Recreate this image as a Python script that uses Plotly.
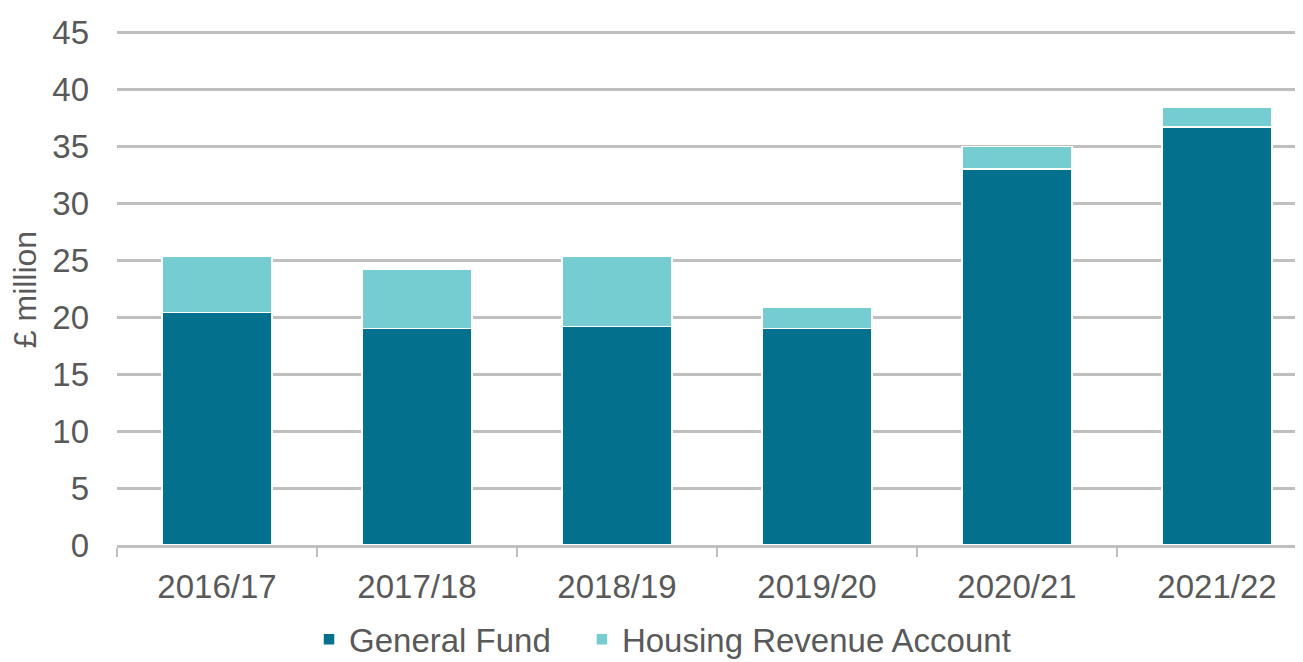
import plotly.graph_objects as go

years = ["2016/17", "2017/18", "2018/19", "2019/20", "2020/21", "2021/22"]
general_fund = [20.4, 19.0, 19.2, 19.0, 33.0, 36.7]
housing_revenue = [5.0, 5.2, 6.2, 1.9, 2.0, 1.7]
y_ticks = [0, 5, 10, 15, 20, 25, 30, 35, 40, 45]

GF_COLOR = "#03718D"
HRA_COLOR = "#75CDD2"
TEXT = "#595959"
GRID = "#BFBFBF"
FONT = "Liberation Sans, Arial, sans-serif"

fig = go.Figure()
fig.add_bar(x=years, y=general_fund, name="General Fund", legend="legend",
            marker=dict(color=GF_COLOR, line=dict(color="white", width=1.5)))
fig.add_bar(x=years, y=housing_revenue, name="Housing Revenue Account", legend="legend2",
            marker=dict(color=HRA_COLOR, line=dict(color="white", width=1.5)))

legend_common = dict(orientation="h", yanchor="middle", xanchor="left",
                     font=dict(size=33, color=TEXT), itemwidth=30,
                     bgcolor="rgba(0,0,0,0)")

# page body has an 8px margin, so the figure is drawn 8px smaller / shifted
fig.update_layout(
    barmode="stack",
    bargap=0.45,
    width=1295, height=654,
    margin=dict(l=109, r=0, t=20, b=117, pad=0, autoexpand=False),
    paper_bgcolor="white", plot_bgcolor="white",
    font=dict(family=FONT, color=TEXT, size=33),
    legend=dict(x=0.1619, y=-0.1825, **legend_common),
    legend2=dict(x=0.392, y=-0.1825, **legend_common),
    showlegend=True,
    annotations=[dict(text="£ million", textangle=-90, xref="paper", yref="paper",
                      x=-0.0775, y=0.493, xanchor="center", yanchor="middle",
                      showarrow=False, font=dict(size=32, color=TEXT))],
)
fig.update_xaxes(
    type="category", range=[-0.5, 5.43], tickson="boundaries", automargin=False,
    showgrid=False, showline=True, linecolor=GRID, linewidth=3,
    ticks="outside", ticklen=9, tickwidth=2, tickcolor=GRID,
    tickfont=dict(size=33, color=TEXT), ticklabelstandoff=10,
)
fig.update_yaxes(
    range=[0, 45.4], tickvals=y_ticks, showgrid=True, gridcolor=GRID, gridwidth=2.5,
    zeroline=False, showline=False, ticks="", automargin=False,
    tickfont=dict(size=33, color=TEXT), ticklabelstandoff=27,
)

fig.write_html("out.html")
